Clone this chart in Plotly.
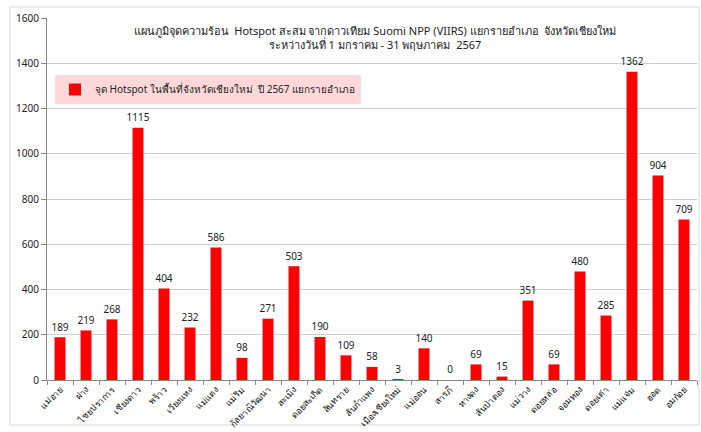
import plotly.graph_objects as go

districts = ["แม่อาย", "ฝาง", "ไชยปราการ", "เชียงดาว", "พร้าว", "เวียงแหง", "แม่แตง",
             "แม่ริม", "กัลยาณิวัฒนา", "สะเมิง", "ดอยสะเก็ด", "สันทราย", "สันกำแพง",
             "เมืองเชียงใหม่", "แม่ออน", "สารภี", "หางดง", "สันป่าตอง", "แม่วาง",
             "ดอยหล่อ", "จอมทอง", "ดอยเต่า", "แม่แจ่ม", "ฮอด", "อมก๋อย"]
hotspots = [189, 219, 268, 1115, 404, 232, 586, 98, 271, 503, 190, 109, 58,
            3, 140, 0, 69, 15, 351, 69, 480, 285, 1362, 904, 709]
y_ticks = [0, 200, 400, 600, 800, 1000, 1200, 1400, 1600]

series_name = "จุด Hotspot ในพื้นที่จังหวัดเชียงใหม่  ปี 2567 แยกรายอำเภอ"
title_text = ("แผนภูมิจุดความร้อน  Hotspot สะสม จากดาวเทียม Suomi NPP (VIIRS) แยกรายอำเภอ  จังหวัดเชียงใหม่"
              "<br>ระหว่างวันที่ 1 มกราคม - 31 พฤษภาคม  2567")

FONT = "Tahoma, 'Noto Sans', 'DejaVu Sans', sans-serif"

fig = go.Figure()
fig.add_trace(go.Bar(
    x=districts, y=hotspots, name=series_name,
    marker=dict(color="#ff0000", line=dict(width=0)),
    showlegend=True,
))
fig.add_trace(go.Scatter(
    x=districts, y=hotspots, mode="markers+text",
    marker=dict(size=5, color="rgba(0,0,0,0)"),
    text=[str(v) for v in hotspots], textposition="top center",
    textfont=dict(size=10, color="#222222", family=FONT),
    showlegend=False, hoverinfo="skip", cliponaxis=False,
))

L, R, T, B = 47, 4, 18, 52
W, H = 701, 432
pw, ph = W - L - R, H - T - B

def px_x(p):
    return (p - L) / pw

def px_y(p):
    return (H - B - p) / ph

fig.update_layout(
    width=W, height=H,
    margin=dict(l=L, r=R, t=T, b=B, autoexpand=False),
    paper_bgcolor="white", plot_bgcolor="white",
    font=dict(family=FONT, size=10, color="#222222"),
    bargap=0.58,
    title=dict(text=title_text, x=0.535, xanchor="center", y=0.92, yanchor="top",
               font=dict(size=11, color="#222222", family=FONT)),
    legend=dict(x=px_x(55), y=px_y(75), xanchor="left", yanchor="top",
                bgcolor="#ffd9d9", borderwidth=0,
                font=dict(size=10, color="#222222", family=FONT),
                itemwidth=30),
    xaxis=dict(tickangle=-45, ticks="outside", tickson="boundaries", ticklen=4,
               range=[-0.5, len(districts) - 0.5], automargin=False,
               tickcolor="#888888", showline=True, linecolor="#888888",
               showgrid=False, tickfont=dict(size=9, family=FONT, color="#111111")),
    yaxis=dict(range=[0, 1600], tickvals=y_ticks, ticks="outside", ticklen=5,
               automargin=False,
               tickcolor="#888888", showline=True, linecolor="#888888",
               gridcolor="#d0d0d0", gridwidth=1, zeroline=False,
               tickfont=dict(size=10, family=FONT)),
    shapes=[dict(type="rect", xref="paper", yref="paper",
                 x0=px_x(10), x1=px_x(699), y0=px_y(425), y1=px_y(7),
                 line=dict(color="#d9d9d9", width=1), fillcolor="rgba(0,0,0,0)",
                 layer="below")],
)

fig.write_html("out.html", config={"displayModeBar": False},
               post_script="document.body.style.margin='0px';document.body.style.overflow='hidden';")
